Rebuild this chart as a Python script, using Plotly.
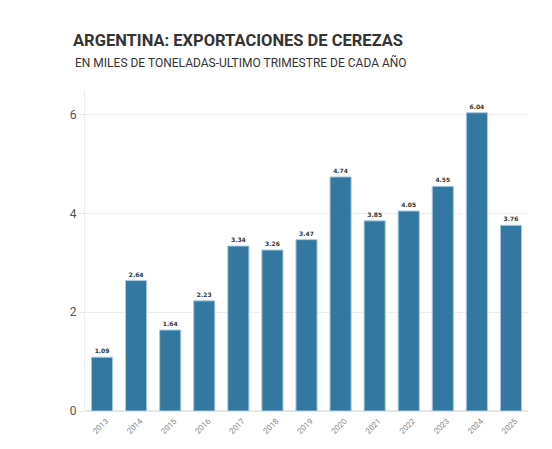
import plotly.graph_objects as go

# Exportaciones de cerezas, ultimo trimestre (miles de toneladas)
years = ["2013", "2014", "2015", "2016", "2017", "2018", "2019",
         "2020", "2021", "2022", "2023", "2024", "2025"]
exports = [1.09, 2.64, 1.64, 2.23, 3.34, 3.26, 3.47,
           4.74, 3.85, 4.05, 4.55, 6.04, 3.76]
y_ticks = [0, 2, 4, 6]

fig = go.Figure()

fig.add_trace(go.Bar(
    x=years,
    y=exports,
    marker=dict(color="#3278a1", line=dict(color="#a9cbe0", width=1)),
    text=[f"<b>{v:.2f}</b>" for v in exports],
    textposition="outside",
    textfont=dict(family="DejaVu Sans", size=6, color="#333333"),
    cliponaxis=False,
    hoverinfo="x+y",
))

# page body adds an 8px offset, so the figure is a bit smaller than the window
fig.update_layout(
    width=544,
    height=441,
    font=dict(family="Roboto", color="#444444"),
    title=dict(
        text="<b>ARGENTINA: EXPORTACIONES DE CEREZAS</b>",
        x=65 / 544,
        xanchor="left",
        xref="container",
        y=1 - 32 / 441,
        yanchor="middle",
        yref="container",
        font=dict(family="Roboto", size=16.5, color="#333333"),
    ),
    annotations=[dict(
        text="EN MILES DE TONELADAS-ULTIMO TRIMESTRE DE CADA AÑO",
        xref="paper", yref="paper",
        x=-12 / 443, y=(411 - 62) / 321,
        xanchor="left", yanchor="middle",
        showarrow=False,
        font=dict(family="Roboto", size=12, color="#333333"),
    )],
    bargap=0.38,
    plot_bgcolor="white",
    paper_bgcolor="white",
    showlegend=False,
    margin=dict(l=77, r=24, t=82, b=38),
    xaxis=dict(
        tickangle=-45,
        tickfont=dict(family="Roboto", size=8, color="#888888"),
        ticklabelstandoff=3,
        ticklabelshift=4,
        showgrid=False,
        showline=False,
        ticks="",
        automargin=False,
    ),
    yaxis=dict(
        range=[0, 6.5],
        tickvals=y_ticks,
        tickfont=dict(family="Roboto", size=12, color="#555555"),
        showgrid=True,
        gridcolor="#eeeeee",
        gridwidth=1,
        zeroline=True,
        zerolinecolor="#e6e6e6",
        showline=True,
        linecolor="#eeeeee",
        ticks="outside",
        ticklen=5,
        tickcolor="#e6e6e6",
        automargin=False,
    ),
)

fig.write_html("out.html")
